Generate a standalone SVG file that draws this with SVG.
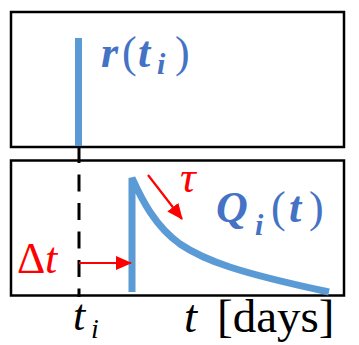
<svg xmlns="http://www.w3.org/2000/svg" width="359" height="345" viewBox="0 0 359 345">
<style>
.box{fill:none;stroke:#000;stroke-width:2.5}
.blue{fill:none;stroke:#5B9BD5;stroke-width:7}
.arr{stroke:#FF0000;stroke-width:2.2;fill:none}
.math{font-family:"Liberation Serif","DejaVu Serif",serif;fill:#4472C4}
.bi{font-weight:bold;font-style:italic}
.up{font-weight:normal;font-style:normal}
.red{font-family:"Liberation Serif","DejaVu Serif",serif;fill:#FF0000}
.blk{font-family:"Liberation Serif","DejaVu Serif",serif;fill:#000}
</style>
<defs>
<marker id="ah" markerUnits="userSpaceOnUse" markerWidth="16" markerHeight="14" refX="15" refY="7" orient="auto">
<path d="M0,0 L16,7 L0,14 z" fill="#FF0000"/>
</marker>
</defs>
<g id="top-panel">
<rect class="box" x="11" y="12" width="333" height="135"/>
<line class="blue" x1="78.5" y1="38" x2="78.5" y2="146"/>
<text class="math" font-size="44" y="67"><tspan class="bi" x="101">r</tspan><tspan class="up" x="122">(</tspan><tspan class="bi" x="138">t</tspan><tspan class="bi" x="157" y="74" font-size="30">i</tspan><tspan class="up" x="175" y="67">)</tspan></text>
</g>
<g id="bottom-panel">
<rect class="box" x="11" y="160.5" width="333" height="135"/>
<path class="blue" stroke-linejoin="bevel" d="M132,292 V178 C142,200 155,226 180,244 C205,261 240,273 329,292"/>
<text class="math" font-size="44" y="222"><tspan class="bi" x="216">Q</tspan><tspan class="bi" x="255" y="235" font-size="30">i</tspan><tspan class="up" x="271" y="222">(</tspan><tspan class="bi" x="289">t</tspan><tspan class="up" x="309">)</tspan></text>
</g>
<g id="connectors">
<line x1="79" y1="146" x2="79" y2="297" stroke="#000" stroke-width="3" stroke-dasharray="17 11.5"/>
<line class="arr" x1="79" y1="263" x2="131" y2="263" marker-end="url(#ah)"/>
<line class="arr" x1="148" y1="175" x2="182" y2="219" marker-end="url(#ah)"/>
</g>
<g id="labels">
<text class="red" font-size="44" y="273"><tspan x="17">Δ</tspan><tspan x="45" font-style="italic">t</tspan></text>
<text class="red" font-size="44" font-style="italic" x="180" y="192">τ</text>
<text class="blk" font-size="44" y="330"><tspan x="73" font-style="italic">t</tspan><tspan x="91" y="338" font-size="28" font-style="italic">i</tspan></text>
<text class="blk" font-size="47" y="332"><tspan x="184" font-style="italic">t</tspan><tspan x="217">[days]</tspan></text>
</g>
</svg>
